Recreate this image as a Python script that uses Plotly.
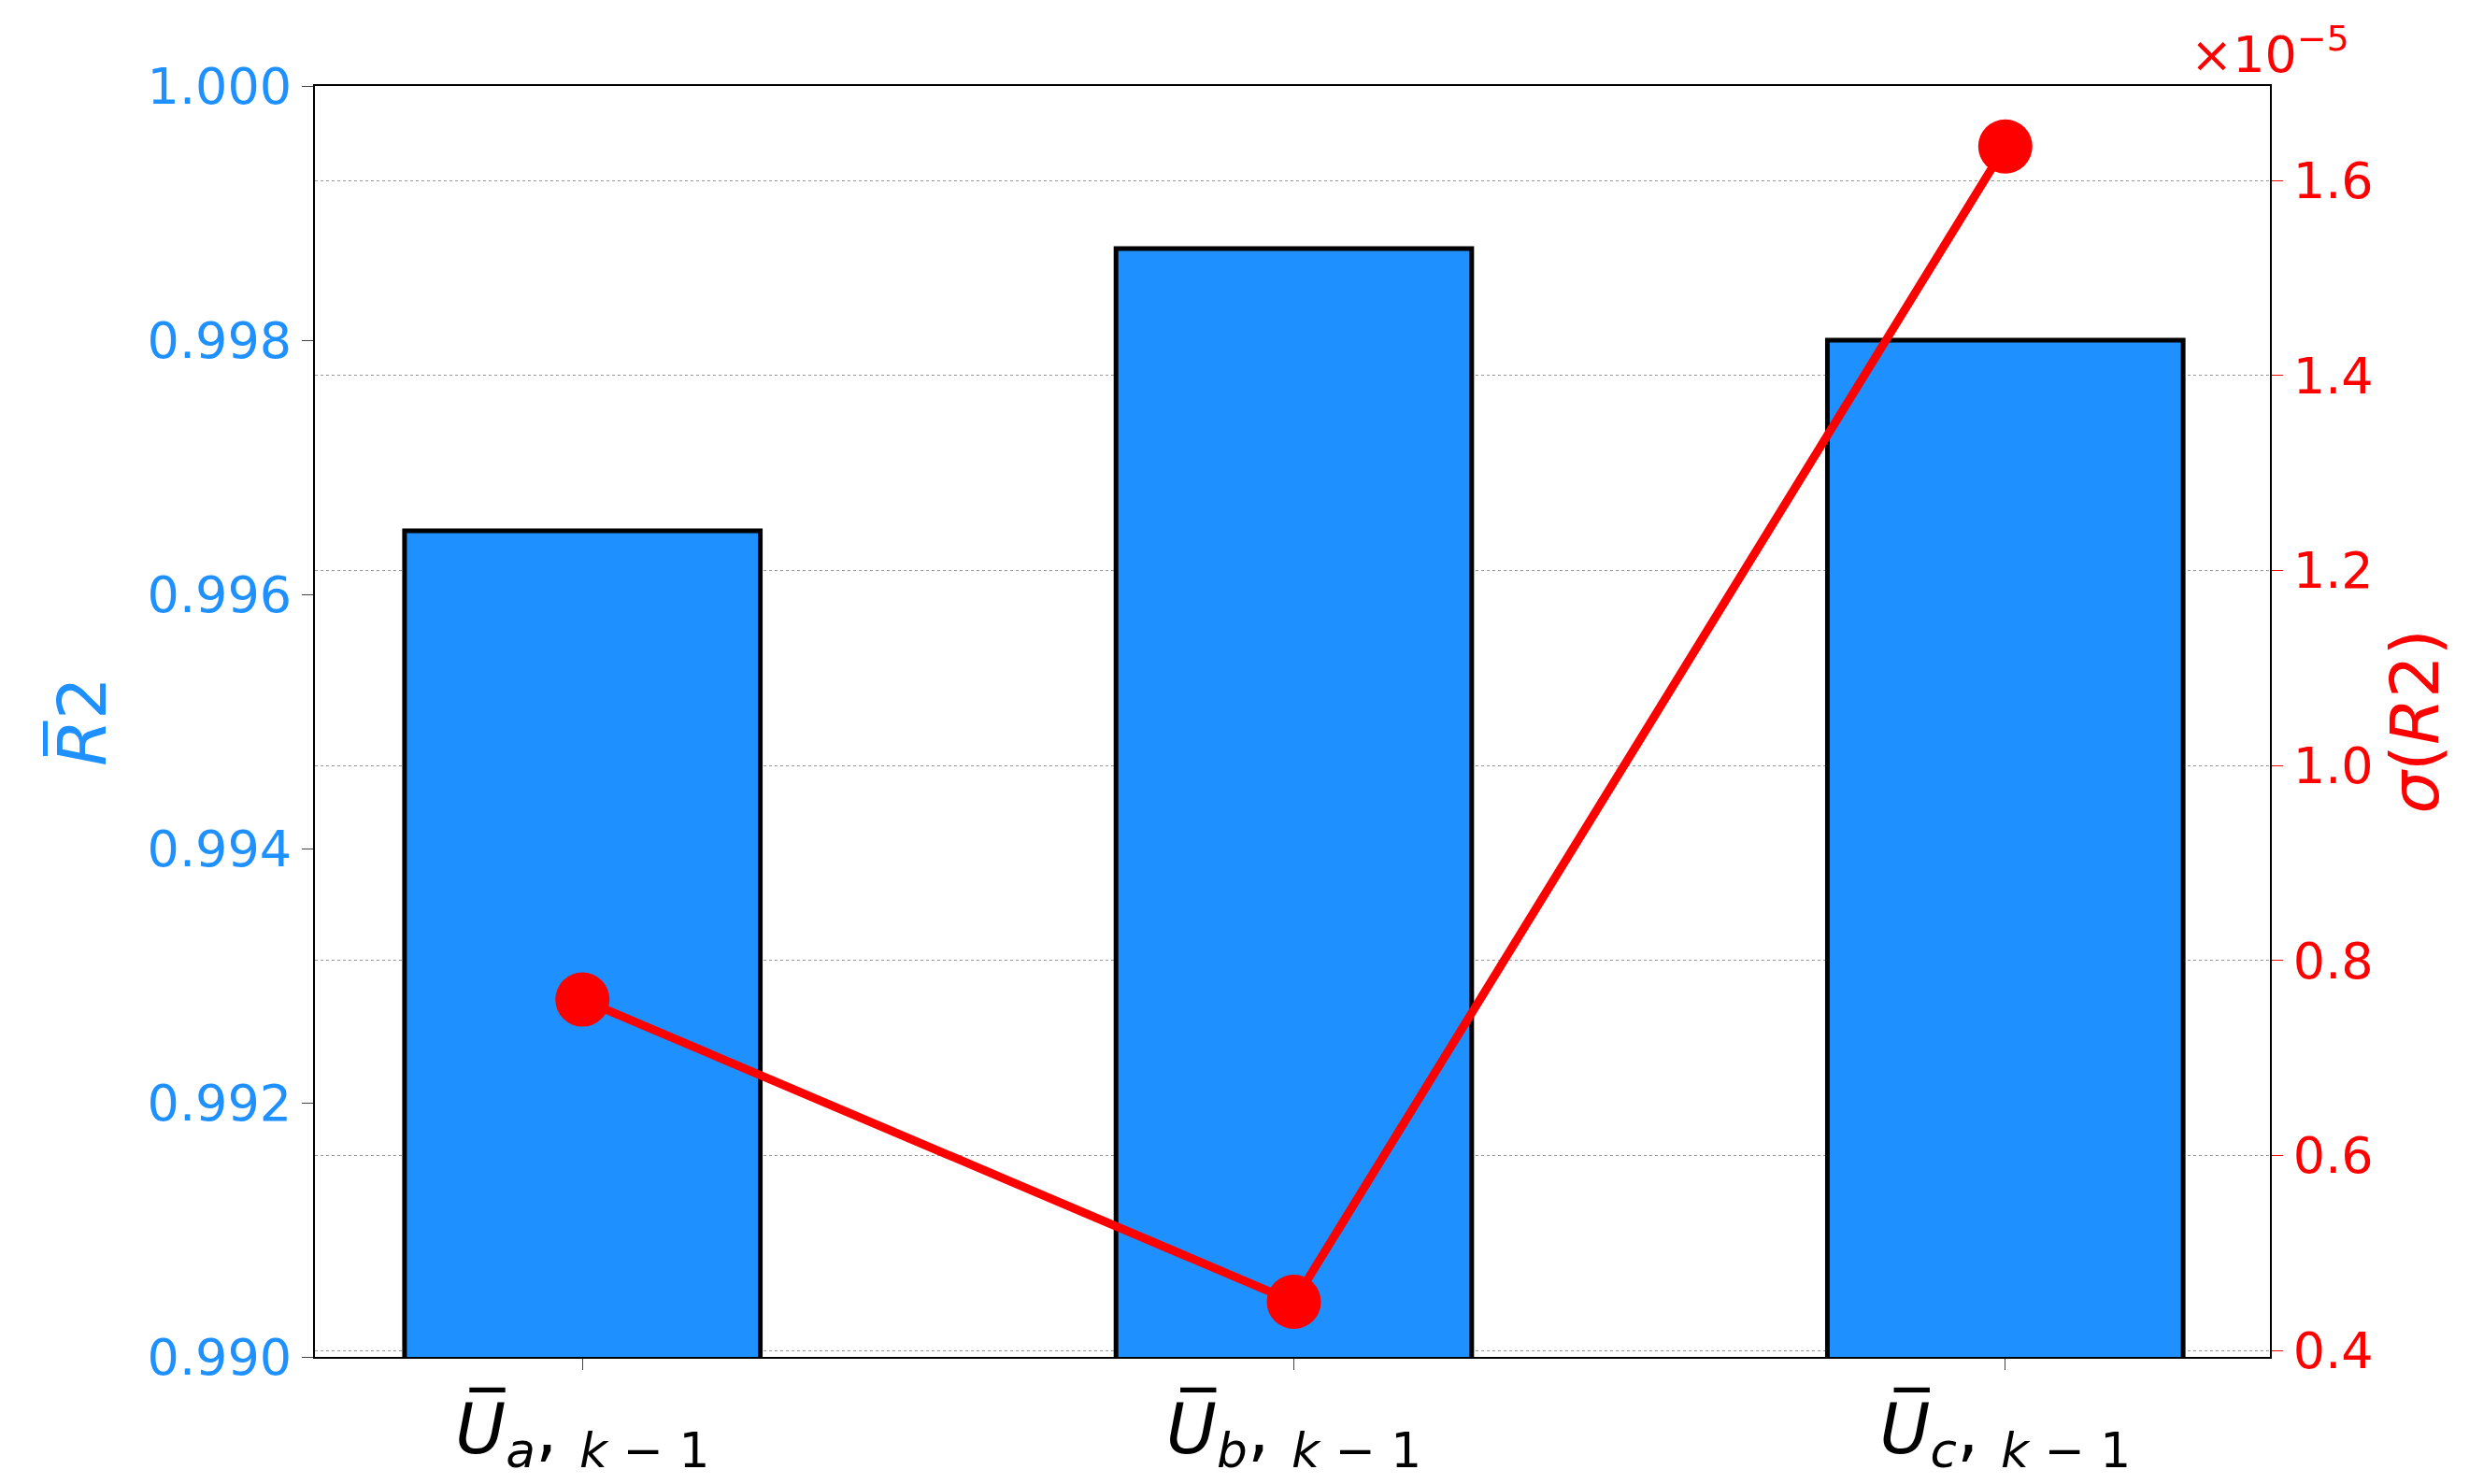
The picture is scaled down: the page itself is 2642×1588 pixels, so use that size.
import plotly.graph_objects as go

categories = ["<i>U̅</i><sub><i>a</i></sub>, <sub><i>k</i> − 1</sub>",
              "<i>U̅</i><sub><i>b</i></sub>, <sub><i>k</i> − 1</sub>",
              "<i>U̅</i><sub><i>c</i></sub>, <sub><i>k</i> − 1</sub>"]
r2_mean = [0.99650, 0.99872, 0.99800]
r2_std_e5 = [0.76, 0.45, 1.635]
xpos = [0, 1, 2]

fig = go.Figure()
fig.add_trace(go.Bar(x=xpos, y=r2_mean, width=0.5, marker=dict(color="#1e90ff", line=dict(color="black", width=5)), yaxis="y"))
fig.add_trace(go.Scatter(x=xpos, y=r2_std_e5, mode="lines+markers", line=dict(color="red", width=9),
                         marker=dict(color="red", size=58), yaxis="y2"))
fig.update_layout(
    width=2642, height=1588, plot_bgcolor="white", paper_bgcolor="white", showlegend=False,
    margin=dict(l=329, r=221, t=84, b=144),
    font=dict(family="DejaVu Sans"),
    xaxis=dict(range=[-0.376, 2.372], tickvals=xpos, ticktext=categories, tickfont=dict(size=74, color="black"),
               showline=True, linecolor="black", linewidth=2, mirror=True, ticks="outside", ticklen=12, showgrid=False),
    yaxis=dict(range=[0.990, 1.000], dtick=0.002, tickformat=".3f", tickfont=dict(size=54, color="#1e90ff"),
               title=dict(text="<i>R̅</i>2", font=dict(size=72, color="#1e90ff"), standoff=20),
               showline=True, linecolor="black", linewidth=2, ticks="outside", ticklen=12, showgrid=False),
    yaxis2=dict(range=[0.3935, 1.697], overlaying="y", side="right", tickvals=[0.4,0.6,0.8,1.0,1.2,1.4,1.6],
                ticktext=["0.4","0.6","0.8","1.0","1.2","1.4","1.6"], tickfont=dict(size=54, color="red"),
                title=dict(text="<i>σ</i>(<i>R</i>2)", font=dict(size=72, color="red"), standoff=20),
                showline=True, linecolor="black", linewidth=2, ticks="outside", ticklen=12, tickcolor="red",
                showgrid=True, gridcolor="#999999", griddash="dot", gridwidth=1, zeroline=False),
    annotations=[dict(text="×10<sup>−5</sup>", xref="paper", yref="paper", x=1.0, y=1.0, xanchor="center",
                      yanchor="bottom", showarrow=False, font=dict(size=54, color="red"))],
)
fig.write_html("out.html")
